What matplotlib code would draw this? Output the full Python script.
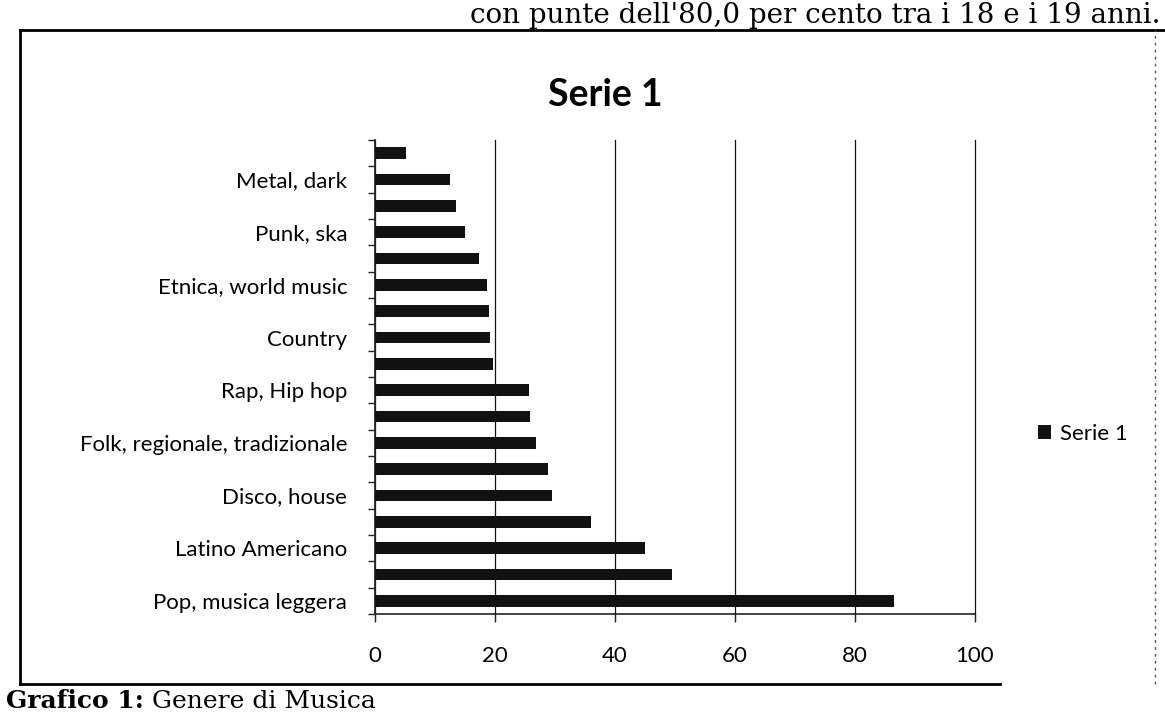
import numpy as np
from matplotlib import pyplot as plt
from matplotlib.lines import Line2D

# categories from bottom to top, only every other one is labelled in the chart
labels = ['Pop, musica leggera', '', 'Latino Americano', '', 'Disco, house', '',
          'Folk, regionale, tradizionale', '', 'Rap, Hip hop', '', 'Country', '',
          'Etnica, world music', '', 'Punk, ska', '', 'Metal, dark', '']
values = [86.5, 49.5, 45, 36, 29.5, 28.9, 26.9, 25.8, 25.7, 19.7,
          19.2, 19, 18.6, 17.3, 15, 13.5, 12.5, 5.2]
x_ticks = [0, 20, 40, 60, 80, 100]
series_name = 'Serie 1'
title = 'Serie 1'
top_line = "con punte dell'80,0 per cento tra i 18 e i 19 anni."

W, H = 1165, 715
fig = plt.figure(figsize=(W / 100, H / 100), dpi=100)
fig.patch.set_facecolor('white')

font = 'Lato'

ax = fig.add_axes([375 / W, 1 - 614 / H, 600 / W, 474 / H])
y = np.arange(len(labels))
ax.barh(y, values, height=0.45, color='#111111', label=series_name, zorder=3)

ax.set_xlim(0, 100)
ax.set_ylim(-0.5, len(labels) - 0.5)
ax.set_xticks(x_ticks)
ax.set_xticklabels([str(t) for t in x_ticks], fontname=font, fontsize=16)
ax.set_yticks(y)
ax.set_yticklabels(labels, fontname=font, fontsize=16)
ax.set_yticks(np.arange(len(labels) + 1) - 0.5, minor=True)
ax.tick_params(axis='y', which='major', length=0, pad=20)
ax.tick_params(axis='y', which='minor', length=5, width=1, color='#222222')
ax.tick_params(axis='x', length=6, width=1, color='#222222', pad=17)
ax.grid(axis='x', color='#111111', linewidth=0.9, zorder=0)
for gl in ax.get_xgridlines():
    gl.set_clip_on(False)
for s in ['top', 'right']:
    ax.spines[s].set_visible(False)
for s in ['left', 'bottom']:
    ax.spines[s].set_color('#222222')
    ax.spines[s].set_linewidth(1.2)

fig.text(605 / W, 1 - 95 / H, title, ha='center', va='center',
         fontname=font, fontsize=27, fontweight='bold')

ax.legend(loc='center left', bbox_to_anchor=(1018 / W, 1 - 434 / H),
          bbox_transform=fig.transFigure, frameon=False,
          prop={'family': font, 'size': 16},
          handlelength=0.6, handleheight=0.6, handletextpad=0.4)

# chart border as on the scanned page
fig.add_artist(Line2D([20 / W, 20 / W], [1 - 684 / H, 1 - 30 / H], color='black', lw=2))
fig.add_artist(Line2D([20 / W, 1], [1 - 30 / H, 1 - 30 / H], color='black', lw=2))
fig.add_artist(Line2D([20 / W, 1000 / W], [1 - 684 / H, 1 - 684 / H], color='black', lw=2))
fig.add_artist(Line2D([1155 / W, 1155 / W], [1 - 684 / H, 1 - 30 / H],
                      color='#555555', lw=1, linestyle=(0, (2, 3))))

fig.text(1160 / W, 1 - 23 / H, top_line, ha='right', va='baseline',
         fontname='DejaVu Serif', fontsize=20)
fig.text(6 / W, 2 / H, 'Grafico 1:', ha='left', va='bottom',
         fontname='DejaVu Serif', fontsize=18, fontweight='bold')
fig.text(152 / W, 2 / H, 'Genere di Musica', ha='left', va='bottom',
         fontname='DejaVu Serif', fontsize=18)

fig.savefig('out.png', dpi=100)
